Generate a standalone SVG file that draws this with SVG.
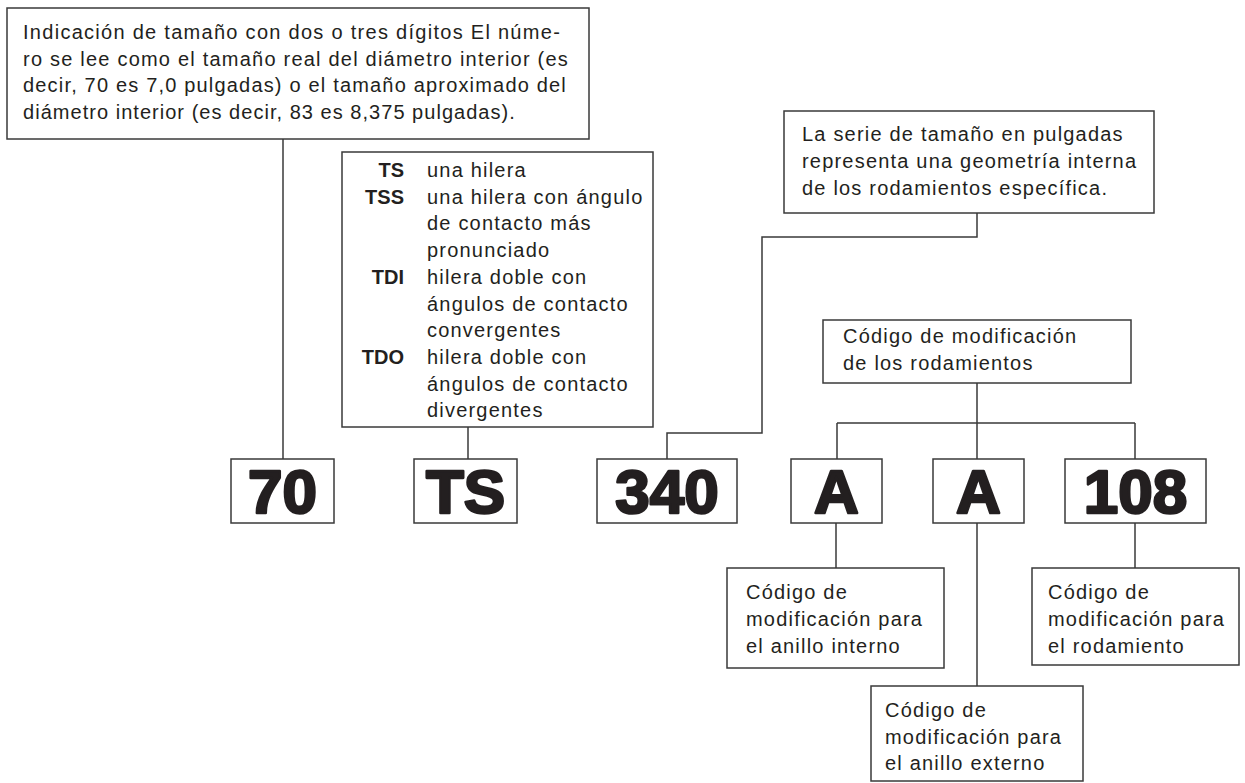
<svg xmlns="http://www.w3.org/2000/svg" width="1245" height="783" viewBox="0 0 1245 783">
<style>
.box{fill:#fff;stroke:#3a3a3a;stroke-width:1.5}
.ln{fill:none;stroke:#3a3a3a;stroke-width:1.5}
.t{font-family:"Liberation Sans",Arial,sans-serif;font-size:20px;fill:#231f20;letter-spacing:1.2px}
.b{font-family:"Liberation Sans",Arial,sans-serif;font-size:20px;font-weight:bold;fill:#231f20;text-anchor:end}
.big{font-family:"Liberation Sans",Arial,sans-serif;font-size:62px;font-weight:bold;fill:#231f20;stroke:#231f20;stroke-width:2.6;stroke-linejoin:round;text-anchor:middle}
</style>
<rect width="1245" height="783" fill="#fff"/>
<g id="connectors">
<path class="ln" d="M283 139V459"/>
<path class="ln" d="M468 427V459"/>
<path class="ln" d="M977 213V237H762V433H667V459"/>
<path class="ln" d="M977 383V459M837 423H1135M837 423V459M1135 423V459"/>
<path class="ln" d="M836 523V568"/>
<path class="ln" d="M977 523V686"/>
<path class="ln" d="M1135 523V568"/>
</g>
<g id="size-note">
<rect class="box" x="7" y="8" width="582" height="131"/>
<text class="t" x="23" y="39" textLength="538" lengthAdjust="spacing">Indicación de tamaño con dos o tres dígitos El núme-</text>
<text class="t" x="23" y="65.7" textLength="546" lengthAdjust="spacing">ro se lee como el tamaño real del diámetro interior (es</text>
<text class="t" x="23" y="92.4" textLength="544" lengthAdjust="spacing">decir, 70 es 7,0 pulgadas) o el tamaño aproximado del</text>
<text class="t" x="23" y="119" textLength="493" lengthAdjust="spacing">diámetro interior (es decir, 83 es 8,375 pulgadas).</text>
</g>
<g id="type-note">
<rect class="box" x="342" y="152" width="311" height="275"/>
<text class="b" x="404" y="177">TS</text>
<text class="b" x="404" y="203.7">TSS</text>
<text class="b" x="404" y="283.8">TDI</text>
<text class="b" x="404" y="363.9">TDO</text>
<text class="t" x="427" y="177">una hilera</text>
<text class="t" x="427" y="203.7">una hilera con ángulo</text>
<text class="t" x="427" y="230.4">de contacto más</text>
<text class="t" x="427" y="257.1">pronunciado</text>
<text class="t" x="427" y="283.8">hilera doble con</text>
<text class="t" x="427" y="310.5">ángulos de contacto</text>
<text class="t" x="427" y="337.2">convergentes</text>
<text class="t" x="427" y="363.9">hilera doble con</text>
<text class="t" x="427" y="390.6">ángulos de contacto</text>
<text class="t" x="427" y="417.3">divergentes</text>
</g>
<g id="series-note">
<rect class="box" x="784" y="111" width="370" height="102"/>
<text class="t" x="802" y="141">La serie de tamaño en pulgadas</text>
<text class="t" x="802" y="168">representa una geometría interna</text>
<text class="t" x="802" y="195">de los rodamientos específica.</text>
</g>
<g id="mod-note">
<rect class="box" x="823" y="320" width="308" height="63"/>
<text class="t" x="843" y="343">Código de modificación</text>
<text class="t" x="843" y="370">de los rodamientos</text>
</g>
<g id="code-70"><rect class="box" x="231" y="459" width="103" height="64"/><text class="big" x="282.5" y="513">70</text></g>
<g id="code-TS"><rect class="box" x="414" y="459" width="103" height="64"/><text class="big" x="465.5" y="513">TS</text></g>
<g id="code-340"><rect class="box" x="597" y="459" width="140" height="64"/><text class="big" x="667" y="513">340</text></g>
<g id="code-A1"><rect class="box" x="791" y="459" width="91" height="64"/><text class="big" x="836.5" y="513">A</text></g>
<g id="code-A2"><rect class="box" x="933" y="459" width="91" height="64"/><text class="big" x="978.5" y="513">A</text></g>
<g id="code-108"><rect class="box" x="1065" y="459" width="141" height="64"/><text class="big" x="1135.5" y="513">108</text></g>
<g id="inner-note">
<rect class="box" x="727" y="568" width="217" height="100"/>
<text class="t" x="746" y="599">Código de</text>
<text class="t" x="746" y="626">modificación para</text>
<text class="t" x="746" y="653">el anillo interno</text>
</g>
<g id="outer-note">
<rect class="box" x="871" y="686" width="212" height="95"/>
<text class="t" x="885" y="717">Código de</text>
<text class="t" x="885" y="744">modificación para</text>
<text class="t" x="885" y="770">el anillo externo</text>
</g>
<g id="bearing-note">
<rect class="box" x="1032" y="568" width="207" height="97"/>
<text class="t" x="1048" y="599">Código de</text>
<text class="t" x="1048" y="626">modificación para</text>
<text class="t" x="1048" y="653">el rodamiento</text>
</g>
</svg>
